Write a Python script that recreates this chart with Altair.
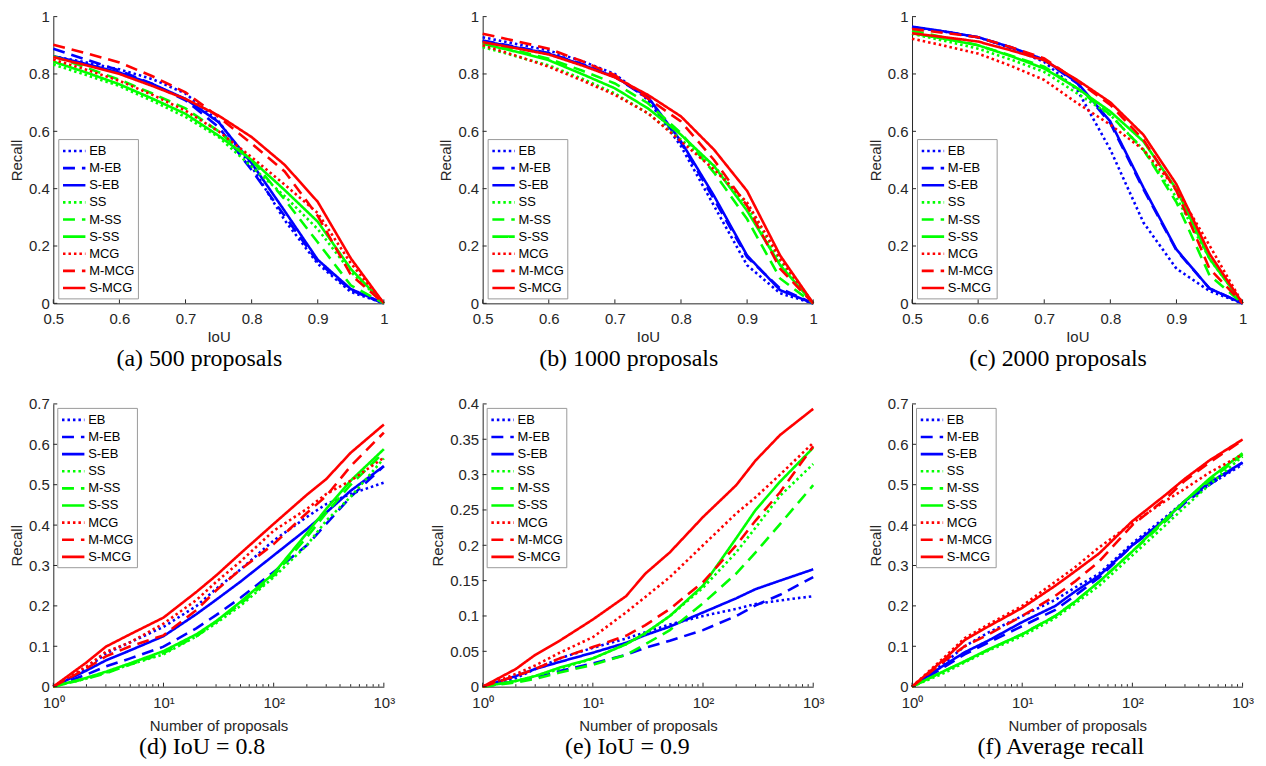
import altair as alt
import pandas as pd

METHODS = ["EB", "M-EB", "S-EB", "SS", "M-SS", "S-SS", "MCG", "M-MCG", "S-MCG"]
COLORS = ["#0000FF", "#0000FF", "#0000FF", "#00FF00", "#00FF00", "#00FF00",
          "#FF0000", "#FF0000", "#FF0000"]
DASHES = [[2.5, 3], [12, 7], [1, 0]] * 3

IOU = [0.5, 0.55, 0.6, 0.65, 0.7, 0.75, 0.8, 0.85, 0.9, 0.95, 1.0]
NPROP = [1, 2, 3, 5, 10, 20, 30, 50, 100, 200, 300, 500, 1000]

P500 = {
    "EB":    [0.862, 0.840, 0.816, 0.782, 0.732, 0.635, 0.477, 0.290, 0.138, 0.040, 0],
    "M-EB":  [0.888, 0.850, 0.812, 0.765, 0.708, 0.615, 0.465, 0.305, 0.145, 0.046, 0],
    "S-EB":  [0.862, 0.835, 0.805, 0.765, 0.713, 0.632, 0.489, 0.322, 0.152, 0.050, 0],
    "SS":    [0.833, 0.796, 0.758, 0.706, 0.650, 0.580, 0.477, 0.374, 0.259, 0.110, 0],
    "M-SS":  [0.862, 0.822, 0.780, 0.732, 0.680, 0.600, 0.500, 0.362, 0.213, 0.063, 0],
    "S-SS":  [0.843, 0.805, 0.764, 0.714, 0.661, 0.585, 0.500, 0.395, 0.285, 0.120, 0],
    "MCG":   [0.850, 0.815, 0.776, 0.727, 0.672, 0.600, 0.510, 0.414, 0.315, 0.140, 0],
    "M-MCG": [0.902, 0.872, 0.840, 0.792, 0.736, 0.650, 0.557, 0.460, 0.305, 0.100, 0],
    "S-MCG": [0.859, 0.830, 0.800, 0.758, 0.713, 0.655, 0.580, 0.483, 0.354, 0.157, 0],
}
P1000 = {
    "EB":    [0.928, 0.905, 0.882, 0.845, 0.800, 0.710, 0.548, 0.340, 0.133, 0.035, 0],
    "M-EB":  [0.917, 0.895, 0.873, 0.835, 0.790, 0.715, 0.560, 0.363, 0.161, 0.052, 0],
    "S-EB":  [0.915, 0.893, 0.871, 0.833, 0.790, 0.720, 0.565, 0.375, 0.167, 0.046, 0],
    "SS":    [0.894, 0.862, 0.830, 0.784, 0.732, 0.663, 0.571, 0.480, 0.340, 0.144, 0],
    "M-SS":  [0.911, 0.883, 0.853, 0.812, 0.767, 0.698, 0.594, 0.456, 0.294, 0.087, 0],
    "S-SS":  [0.905, 0.878, 0.848, 0.800, 0.750, 0.680, 0.588, 0.479, 0.323, 0.133, 0],
    "MCG":   [0.900, 0.864, 0.825, 0.778, 0.727, 0.663, 0.565, 0.467, 0.352, 0.156, 0],
    "M-MCG": [0.940, 0.915, 0.888, 0.845, 0.796, 0.715, 0.634, 0.500, 0.340, 0.121, 0],
    "S-MCG": [0.911, 0.890, 0.868, 0.830, 0.788, 0.727, 0.652, 0.536, 0.392, 0.167, 0],
}
P2000 = {
    "EB":    [0.963, 0.947, 0.928, 0.890, 0.842, 0.744, 0.536, 0.282, 0.121, 0.043, 0],
    "M-EB":  [0.963, 0.947, 0.928, 0.892, 0.848, 0.767, 0.628, 0.398, 0.185, 0.052, 0],
    "S-EB":  [0.965, 0.948, 0.928, 0.893, 0.850, 0.770, 0.634, 0.404, 0.188, 0.052, 0],
    "SS":    [0.940, 0.915, 0.888, 0.850, 0.807, 0.732, 0.657, 0.536, 0.369, 0.156, 0],
    "M-SS":  [0.951, 0.927, 0.900, 0.864, 0.825, 0.750, 0.657, 0.536, 0.352, 0.098, 0],
    "S-SS":  [0.942, 0.922, 0.900, 0.862, 0.819, 0.750, 0.669, 0.565, 0.398, 0.156, 0],
    "MCG":   [0.923, 0.898, 0.871, 0.828, 0.779, 0.698, 0.623, 0.536, 0.398, 0.202, 0],
    "M-MCG": [0.957, 0.943, 0.928, 0.893, 0.854, 0.776, 0.692, 0.571, 0.392, 0.121, 0],
    "S-MCG": [0.942, 0.928, 0.913, 0.882, 0.848, 0.779, 0.701, 0.588, 0.415, 0.173, 0],
}
IOU08 = {
    "EB":    [0, 0.045, 0.082, 0.110, 0.148, 0.200, 0.242, 0.290, 0.362, 0.420, 0.452, 0.477, 0.505],
    "M-EB":  [0, 0.030, 0.050, 0.070, 0.099, 0.145, 0.177, 0.220, 0.284, 0.350, 0.403, 0.470, 0.546],
    "S-EB":  [0, 0.040, 0.065, 0.090, 0.125, 0.180, 0.215, 0.260, 0.325, 0.390, 0.431, 0.485, 0.546],
    "SS":    [0, 0.020, 0.035, 0.055, 0.080, 0.125, 0.157, 0.200, 0.271, 0.350, 0.411, 0.470, 0.565],
    "M-SS":  [0, 0.020, 0.033, 0.055, 0.083, 0.125, 0.160, 0.205, 0.275, 0.370, 0.430, 0.500, 0.580],
    "S-SS":  [0, 0.022, 0.037, 0.058, 0.088, 0.130, 0.162, 0.210, 0.280, 0.380, 0.440, 0.510, 0.588],
    "MCG":   [0, 0.050, 0.086, 0.110, 0.156, 0.215, 0.259, 0.310, 0.386, 0.440, 0.477, 0.510, 0.567],
    "M-MCG": [0, 0.045, 0.075, 0.100, 0.127, 0.190, 0.238, 0.290, 0.353, 0.430, 0.472, 0.546, 0.629],
    "S-MCG": [0, 0.060, 0.099, 0.130, 0.171, 0.235, 0.275, 0.330, 0.403, 0.475, 0.514, 0.579, 0.649],
}
IOU09 = {
    "EB":    [0, 0.012, 0.025, 0.040, 0.055, 0.068, 0.077, 0.088, 0.100, 0.110, 0.117, 0.122, 0.128],
    "M-EB":  [0, 0.008, 0.013, 0.022, 0.033, 0.045, 0.055, 0.065, 0.080, 0.100, 0.115, 0.130, 0.155],
    "S-EB":  [0, 0.015, 0.025, 0.035, 0.048, 0.062, 0.073, 0.085, 0.105, 0.125, 0.138, 0.150, 0.166],
    "SS":    [0, 0.008, 0.015, 0.025, 0.040, 0.060, 0.075, 0.100, 0.140, 0.190, 0.225, 0.270, 0.315],
    "M-SS":  [0, 0.006, 0.011, 0.020, 0.031, 0.045, 0.060, 0.080, 0.118, 0.160, 0.190, 0.230, 0.285],
    "S-SS":  [0, 0.008, 0.015, 0.027, 0.040, 0.060, 0.076, 0.100, 0.143, 0.210, 0.250, 0.290, 0.338],
    "MCG":   [0, 0.018, 0.030, 0.048, 0.070, 0.105, 0.127, 0.155, 0.200, 0.245, 0.268, 0.300, 0.345],
    "M-MCG": [0, 0.015, 0.025, 0.040, 0.056, 0.072, 0.087, 0.110, 0.148, 0.200, 0.235, 0.275, 0.340],
    "S-MCG": [0, 0.025, 0.045, 0.065, 0.095, 0.128, 0.160, 0.190, 0.240, 0.285, 0.320, 0.356, 0.393],
}
AVG = {
    "EB":    [0, 0.060, 0.100, 0.135, 0.175, 0.215, 0.245, 0.280, 0.355, 0.420, 0.460, 0.500, 0.550],
    "M-EB":  [0, 0.050, 0.080, 0.110, 0.150, 0.190, 0.225, 0.270, 0.350, 0.410, 0.455, 0.500, 0.555],
    "S-EB":  [0, 0.055, 0.085, 0.115, 0.160, 0.200, 0.235, 0.275, 0.350, 0.415, 0.460, 0.505, 0.555],
    "SS":    [0, 0.035, 0.060, 0.090, 0.125, 0.170, 0.205, 0.250, 0.325, 0.400, 0.445, 0.500, 0.570],
    "M-SS":  [0, 0.040, 0.062, 0.092, 0.130, 0.175, 0.210, 0.260, 0.335, 0.410, 0.460, 0.510, 0.575],
    "S-SS":  [0, 0.040, 0.063, 0.093, 0.130, 0.175, 0.210, 0.260, 0.335, 0.415, 0.460, 0.515, 0.578],
    "MCG":   [0, 0.075, 0.120, 0.155, 0.200, 0.260, 0.295, 0.345, 0.405, 0.460, 0.490, 0.530, 0.575],
    "M-MCG": [0, 0.065, 0.100, 0.130, 0.175, 0.225, 0.260, 0.310, 0.400, 0.465, 0.510, 0.555, 0.610],
    "S-MCG": [0, 0.070, 0.115, 0.150, 0.195, 0.250, 0.285, 0.330, 0.410, 0.475, 0.515, 0.560, 0.612],
}

IOU_TICKS = [0.5, 0.6, 0.7, 0.8, 0.9, 1.0]
LOG_TICKS = [1, 10, 100, 1000]
LOG_MINOR = [2, 3, 4, 5, 6, 7, 8, 9, 20, 30, 40, 50, 60, 70, 80, 90,
             200, 300, 400, 500, 600, 700, 800, 900]
Y_TICKS_TOP = [0, 0.2, 0.4, 0.6, 0.8, 1.0]
Y_TICKS_07 = [0, 0.1, 0.2, 0.3, 0.4, 0.5, 0.6, 0.7]
Y_TICKS_04 = [0, 0.05, 0.1, 0.15, 0.2, 0.25, 0.3, 0.35, 0.4]

AX = "#262626"
SANS = "Liberation Sans"
SERIF = "Liberation Serif"
W = 332


def long_df(xs, series):
    rows = []
    for m in METHODS:
        for xv, yv in zip(xs, series[m]):
            rows.append({"x": xv, "y": yv, "method": m})
    return pd.DataFrame(rows)


def panel(xs, series, log, ydom, yticks, caption, legend_orient, height, legend_offset):
    df = long_df(xs, series)
    if log:
        xscale = alt.Scale(type="log", domain=[1, 1000])
        xaxis = alt.Axis(values=LOG_TICKS, title="Number of proposals",
                         labelExpr="'10' + (datum.value >= 999 ? '³' : datum.value >= 99 ? '²' : datum.value >= 9 ? '¹' : '⁰')",
                         labelPadding=9, titlePadding=8, labelFlush=False)
        xticks = LOG_TICKS
    else:
        xscale = alt.Scale(domain=[0.5, 1.0], nice=False, zero=False)
        xaxis = alt.Axis(values=IOU_TICKS, format="~g", title="IoU",
                         labelPadding=8, titlePadding=3, labelFlush=False)
        xticks = IOU_TICKS
    yscale = alt.Scale(domain=ydom, nice=False)
    yaxis = alt.Axis(values=yticks, format="~g", title="Recall",
                     labelPadding=4, titlePadding=4, labelFlush=False)
    leg = alt.Legend(title=None, orient=legend_orient, offset=legend_offset,
                     symbolType="M-1.5,0L1.5,0", symbolSize=225, symbolStrokeWidth=2.6,
                     symbolOffset=4, labelOffset=6,
                     labelFont=SANS, labelFontSize=13, labelColor="black",
                     strokeColor="#9a9a9a", fillColor="white", padding=3,
                     rowPadding=1.2)
    X = lambda: alt.X("x:Q", scale=xscale, axis=xaxis)
    Y = lambda: alt.Y("y:Q", scale=yscale, axis=yaxis)
    lines = alt.Chart(df).mark_line(strokeWidth=2.6).encode(
        x=X(), y=Y(),
        color=alt.Color("method:N", scale=alt.Scale(domain=METHODS, range=COLORS), legend=leg),
        strokeDash=alt.StrokeDash("method:N", scale=alt.Scale(domain=METHODS, range=DASHES), legend=leg),
        order=alt.Order("x:Q"),
    )
    xt = alt.Chart(pd.DataFrame({"x": xticks})).mark_rule(color=AX, strokeWidth=1).encode(
        x=X(), y=alt.value(height), y2=alt.value(height - 4))
    yt = alt.Chart(pd.DataFrame({"y": yticks})).mark_rule(color=AX, strokeWidth=1).encode(
        y=Y(), x=alt.value(0), x2=alt.value(4))
    layers = [lines, xt, yt]
    if log:
        xm = alt.Chart(pd.DataFrame({"x": LOG_MINOR})).mark_rule(color=AX, strokeWidth=1).encode(
            x=X(), y=alt.value(height), y2=alt.value(height - 2.5))
        layers.append(xm)
    return alt.layer(*layers).properties(
        width=W, height=height,
        title=alt.TitleParams(text=caption, orient="bottom", anchor="middle", frame="bounds",
                              font=SERIF, fontSize=24, fontWeight="normal", color="black",
                              offset=3 if not log else 2),
    )


HT = 288
HB = 284
a = panel(IOU, P500, False, [0, 1], Y_TICKS_TOP, "(a) 500 proposals", "bottom-left", HT, 5)
b = panel(IOU, P1000, False, [0, 1], Y_TICKS_TOP, "(b) 1000 proposals", "bottom-left", HT, 5)
c = panel(IOU, P2000, False, [0, 1], Y_TICKS_TOP, "(c) 2000 proposals", "bottom-left", HT, 5)
d = panel(NPROP, IOU08, True, [0, 0.7], Y_TICKS_07, "(d) IoU = 0.8", "top-left", HB, 4)
e = panel(NPROP, IOU09, True, [0, 0.4], Y_TICKS_04, "(e)  IoU = 0.9", "top-left", HB, 4)
f = panel(NPROP, AVG, True, [0, 0.7], Y_TICKS_07, "(f) Average recall", "top-left", HB, 4)

chart = alt.concat(a, b, c, d, e, f, columns=3, bounds="flush",
                   spacing={"row": 101, "column": 99.25}).resolve_scale(
    x="independent", y="independent", color="independent", strokeDash="independent"
).resolve_legend(color="independent", strokeDash="independent").properties(
    padding={"left": 1.5, "top": 0, "right": 4, "bottom": 0}
).configure_view(stroke=None).configure_axis(
    labelFont=SANS, titleFont=SANS, labelFontSize=15, titleFontSize=15,
    titleFontWeight="normal", labelColor=AX, titleColor=AX, domainColor=AX,
    domainWidth=1, ticks=False, tickSize=0, grid=False
)

chart.save("out.html", embed_options={"renderer": "svg", "actions": False})
